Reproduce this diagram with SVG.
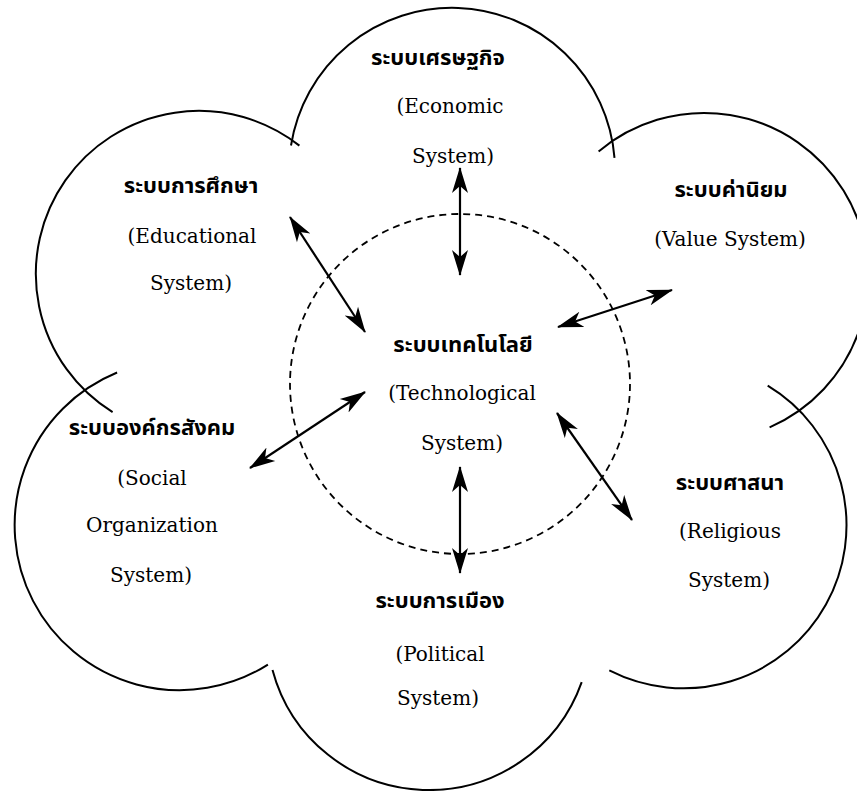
<svg xmlns="http://www.w3.org/2000/svg" width="857" height="791" viewBox="0 0 857 791">
<style>
.arc{fill:none;stroke:#000;stroke-width:2}
.dash{fill:none;stroke:#000;stroke-width:1.8;stroke-dasharray:7 5}
.arr{fill:none;stroke:#000;stroke-width:2.2;marker-start:url(#ah);marker-end:url(#ah)}
.th{font-family:"Noto Sans Thai","Noto Sans Thai UI","Loma","Garuda","Tahoma","DejaVu Sans",sans-serif;font-weight:bold;font-size:22px;text-anchor:middle;fill:#000}
.en{font-family:"DejaVu Serif","Liberation Serif",serif;font-size:20px;text-anchor:middle;fill:#000}
</style>
<defs>
<marker id="ah" viewBox="0 0 26 18" refX="25" refY="9" markerWidth="26" markerHeight="18" markerUnits="userSpaceOnUse" orient="auto-start-reverse">
<path d="M0,1 L26,9 L0,17 L7,9 Z" fill="#000"/>
</marker>
</defs>
<rect width="857" height="791" fill="#fff"/>

<g id="node-economic">
<path class="arc" d="M291,145.5 A163,163 0 0 1 614.5,157.9"/>
<text class="th" x="438" y="65">ระบบเศรษฐกิจ</text>
<text class="en" x="450" y="113">(Economic</text>
<text class="en" x="453" y="163">System)</text>
</g>

<g id="node-educational">
<path class="arc" d="M112.6,412.2 A163,163 0 1 1 299.4,145.6"/>
<text class="th" x="191" y="193">ระบบการศึกษา</text>
<text class="en" x="192" y="243">(Educational</text>
<text class="en" x="191" y="290">System)</text>
</g>

<g id="node-value">
<path class="arc" d="M598.6,151.4 A164,164 0 1 1 769.6,427.3"/>
<text class="th" x="731" y="197">ระบบค่านิยม</text>
<text class="en" x="730" y="246">(Value System)</text>
</g>

<g id="node-religious">
<path class="arc" d="M767.7,385.7 A163,163 0 0 1 609.3,670.4"/>
<text class="th" x="730" y="490">ระบบศาสนา</text>
<text class="en" x="730" y="538">(Religious</text>
<text class="en" x="729" y="587">System)</text>
</g>

<g id="node-political">
<path class="arc" d="M581.7,682.1 A162,162 0 0 1 272.5,669.9"/>
<text class="th" x="440" y="608">ระบบการเมือง</text>
<text class="en" x="440" y="661">(Political</text>
<text class="en" x="438" y="705">System)</text>
</g>

<g id="node-social">
<path class="arc" d="M267.9,664.6 A165,165 0 1 1 117.1,372.5"/>
<text class="th" x="152" y="435">ระบบองค์กรสังคม</text>
<text class="en" x="152" y="485">(Social</text>
<text class="en" x="152" y="532">Organization</text>
<text class="en" x="151" y="582">System)</text>
</g>

<g id="node-technological">
<circle class="dash" cx="460" cy="384" r="170"/>
<text class="th" x="463" y="352">ระบบเทคโนโลยี</text>
<text class="en" x="462" y="400">(Technological</text>
<text class="en" x="462" y="450">System)</text>
</g>

<g id="connectors">
<line class="arr" x1="460" y1="168" x2="460" y2="275"/>
<line class="arr" x1="290" y1="217" x2="365" y2="332"/>
<line class="arr" x1="558" y1="327" x2="672" y2="290"/>
<line class="arr" x1="250" y1="468" x2="365" y2="392"/>
<line class="arr" x1="557" y1="413" x2="632" y2="520"/>
<line class="arr" x1="460" y1="467" x2="460" y2="573"/>
</g>
</svg>
